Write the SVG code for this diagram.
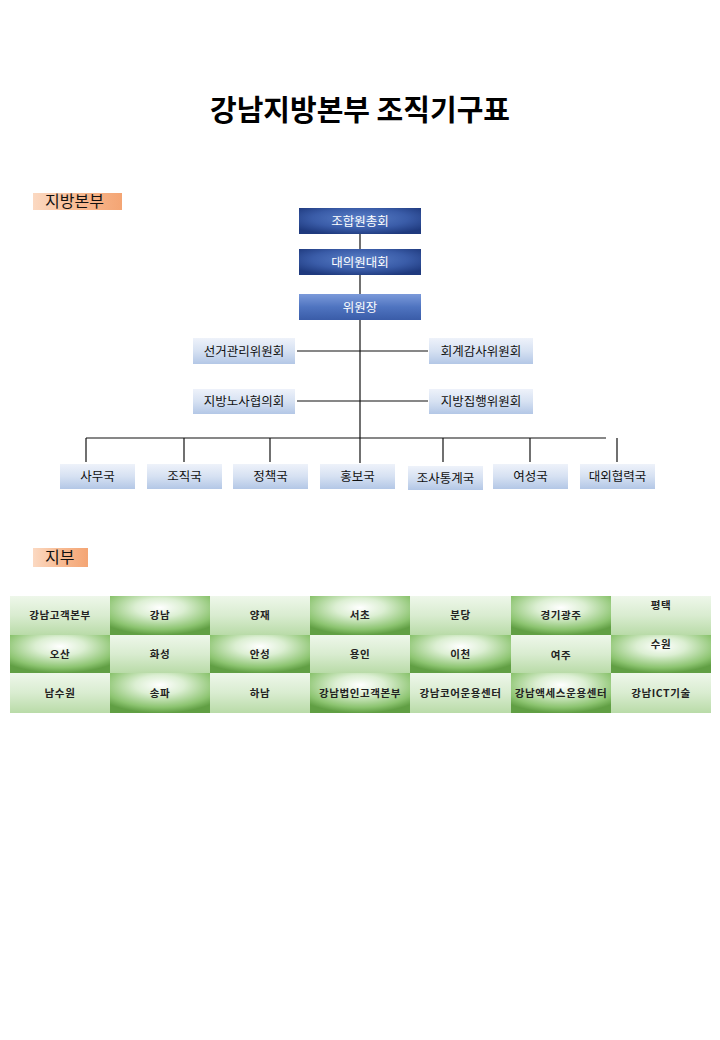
<svg xmlns="http://www.w3.org/2000/svg" width="720" height="1040" viewBox="0 0 720 1040">
<defs>
<radialGradient id="navy" cx="50%" cy="40%" r="65%">
<stop offset="0" stop-color="#5a80c8"/>
<stop offset="0.6" stop-color="#3a5ca8"/>
<stop offset="1" stop-color="#1f3a7e"/>
</radialGradient>
<linearGradient id="chief" x1="0" y1="0" x2="0" y2="1">
<stop offset="0" stop-color="#7b9ada"/>
<stop offset="0.5" stop-color="#4f74c0"/>
<stop offset="1" stop-color="#3a5ca8"/>
</linearGradient>
<linearGradient id="pale" x1="0" y1="0" x2="0" y2="1">
<stop offset="0" stop-color="#eef2fa"/>
<stop offset="0.5" stop-color="#d6e1f2"/>
<stop offset="1" stop-color="#b3c7e6"/>
</linearGradient>
<linearGradient id="tag" x1="0" y1="0" x2="1" y2="0">
<stop offset="0" stop-color="#fbd9c2"/>
<stop offset="0.5" stop-color="#f8bb93"/>
<stop offset="1" stop-color="#f4a574"/>
</linearGradient>
<radialGradient id="gdark" cx="50%" cy="30%" r="70%">
<stop offset="0" stop-color="#ffffff"/>
<stop offset="0.35" stop-color="#dcefd3"/>
<stop offset="0.8" stop-color="#8cc470"/>
<stop offset="1" stop-color="#619f44"/>
</radialGradient>
<linearGradient id="glight" x1="0" y1="0" x2="0" y2="1">
<stop offset="0" stop-color="#eef7ea"/>
<stop offset="0.5" stop-color="#d9ecd0"/>
<stop offset="1" stop-color="#b9dba8"/>
</linearGradient>
</defs>
<style>
.t{font-family:"Noto Sans CJK KR","Noto Sans",sans-serif}
.title{font-size:29px;font-weight:bold;fill:#000}
.w{font-size:12.5px;fill:#fff}
.d{font-size:12.5px;fill:#111}
.tag{font-size:16px;fill:#111}
.c{font-size:10.5px;font-weight:bold;fill:#222;letter-spacing:0.6px}
.ln{stroke:#111;stroke-width:1.2;fill:none}
</style>
<rect width="720" height="1040" fill="#fff"/>
<text class="t title" x="360" y="121" text-anchor="middle">강남지방본부 조직기구표</text>

<g id="tag-bonbu"><rect x="33" y="193" width="89" height="17" fill="url(#tag)"/><text class="t tag" x="45" y="207">지방본부</text></g>
<g id="tag-jibu"><rect x="33" y="548" width="55" height="19" fill="url(#tag)"/><text class="t tag" x="45" y="563">지부</text></g>

<g id="connectors">
<line class="ln" x1="360" y1="234" x2="360" y2="249"/>
<line class="ln" x1="360" y1="275" x2="360" y2="294"/>
<line class="ln" x1="360" y1="320" x2="360" y2="463"/>
<line class="ln" x1="297" y1="351" x2="428" y2="351"/>
<line class="ln" x1="297" y1="401" x2="428" y2="401"/>
<line class="ln" x1="86" y1="438" x2="606" y2="438"/>
<line class="ln" x1="86" y1="438" x2="86" y2="462"/>
<line class="ln" x1="184" y1="438" x2="184" y2="462"/>
<line class="ln" x1="270" y1="438" x2="270" y2="462"/>
<line class="ln" x1="443" y1="438" x2="443" y2="462"/>
<line class="ln" x1="530" y1="438" x2="530" y2="462"/>
<line class="ln" x1="617" y1="438" x2="617" y2="462"/>
</g>

<g id="n-chonghoe"><rect x="299" y="208" width="122" height="26" fill="url(#navy)"/><text class="t w" x="360" y="225.5" text-anchor="middle">조합원총회</text></g>
<g id="n-daeuiwon"><rect x="299" y="249" width="122" height="26" fill="url(#navy)"/><text class="t w" x="360" y="266.5" text-anchor="middle">대의원대회</text></g>
<g id="n-wiwonjang"><rect x="299" y="294" width="122" height="26" fill="url(#chief)"/><text class="t w" x="360" y="311.5" text-anchor="middle">위원장</text></g>

<g id="n-seongeo"><rect x="193" y="338" width="102" height="26" fill="url(#pale)"/><text class="t d" x="244" y="355.5" text-anchor="middle">선거관리위원회</text></g>
<g id="n-hoegye"><rect x="429" y="338" width="104" height="26" fill="url(#pale)"/><text class="t d" x="481" y="355.5" text-anchor="middle">회계감사위원회</text></g>
<g id="n-nosa"><rect x="193" y="389" width="102" height="25" fill="url(#pale)"/><text class="t d" x="244" y="406" text-anchor="middle">지방노사협의회</text></g>
<g id="n-jiphaeng"><rect x="429" y="389" width="104" height="25" fill="url(#pale)"/><text class="t d" x="481" y="406" text-anchor="middle">지방집행위원회</text></g>

<g id="n-samu"><rect x="60" y="464" width="75" height="25" fill="url(#pale)"/><text class="t d" x="97.5" y="481" text-anchor="middle">사무국</text></g>
<g id="n-jojik"><rect x="147" y="464" width="75" height="25" fill="url(#pale)"/><text class="t d" x="184.5" y="481" text-anchor="middle">조직국</text></g>
<g id="n-jeongchaek"><rect x="233" y="464" width="75" height="25" fill="url(#pale)"/><text class="t d" x="270.5" y="481" text-anchor="middle">정책국</text></g>
<g id="n-hongbo"><rect x="320" y="464" width="75" height="25" fill="url(#pale)"/><text class="t d" x="357.5" y="481" text-anchor="middle">홍보국</text></g>
<g id="n-josa"><rect x="408" y="466" width="75" height="24" fill="url(#pale)"/><text class="t d" x="445.5" y="482.5" text-anchor="middle">조사통계국</text></g>
<g id="n-yeoseong"><rect x="493" y="464" width="75" height="25" fill="url(#pale)"/><text class="t d" x="530.5" y="481" text-anchor="middle">여성국</text></g>
<g id="n-daeoe"><rect x="580" y="464" width="75" height="25" fill="url(#pale)"/><text class="t d" x="617.5" y="481" text-anchor="middle">대외협력국</text></g>

<g id="branches">
<g id="b-1-1"><rect x="10" y="596" width="100" height="39" fill="url(#glight)"/><text class="t c" x="60" y="619" text-anchor="middle">강남고객본부</text></g>
<g id="b-1-2"><rect x="110" y="596" width="100" height="39" fill="url(#gdark)"/><text class="t c" x="160" y="619" text-anchor="middle">강남</text></g>
<g id="b-1-3"><rect x="210" y="596" width="100" height="39" fill="url(#glight)"/><text class="t c" x="260" y="619" text-anchor="middle">양재</text></g>
<g id="b-1-4"><rect x="310" y="596" width="100" height="39" fill="url(#gdark)"/><text class="t c" x="360" y="619" text-anchor="middle">서초</text></g>
<g id="b-1-5"><rect x="410" y="596" width="101" height="39" fill="url(#glight)"/><text class="t c" x="460.5" y="619" text-anchor="middle">분당</text></g>
<g id="b-1-6"><rect x="511" y="596" width="100" height="39" fill="url(#gdark)"/><text class="t c" x="561" y="619" text-anchor="middle">경기광주</text></g>
<g id="b-1-7"><rect x="611" y="596" width="100" height="39" fill="url(#glight)"/><text class="t c" x="661" y="609" text-anchor="middle">평택</text></g>

<g id="b-2-1"><rect x="10" y="635" width="100" height="38" fill="url(#gdark)"/><text class="t c" x="60" y="658" text-anchor="middle">오산</text></g>
<g id="b-2-2"><rect x="110" y="635" width="100" height="38" fill="url(#glight)"/><text class="t c" x="160" y="658" text-anchor="middle">화성</text></g>
<g id="b-2-3"><rect x="210" y="635" width="100" height="38" fill="url(#gdark)"/><text class="t c" x="260" y="658" text-anchor="middle">안성</text></g>
<g id="b-2-4"><rect x="310" y="635" width="100" height="38" fill="url(#glight)"/><text class="t c" x="360" y="658" text-anchor="middle">용인</text></g>
<g id="b-2-5"><rect x="410" y="635" width="101" height="38" fill="url(#gdark)"/><text class="t c" x="460.5" y="658" text-anchor="middle">이천</text></g>
<g id="b-2-6"><rect x="511" y="635" width="100" height="38" fill="url(#glight)"/><text class="t c" x="561" y="659" text-anchor="middle">여주</text></g>
<g id="b-2-7"><rect x="611" y="635" width="100" height="38" fill="url(#gdark)"/><text class="t c" x="661" y="648" text-anchor="middle">수원</text></g>

<g id="b-3-1"><rect x="10" y="673" width="100" height="40" fill="url(#glight)"/><text class="t c" x="60" y="697" text-anchor="middle">남수원</text></g>
<g id="b-3-2"><rect x="110" y="673" width="100" height="40" fill="url(#gdark)"/><text class="t c" x="160" y="697" text-anchor="middle">송파</text></g>
<g id="b-3-3"><rect x="210" y="673" width="100" height="40" fill="url(#glight)"/><text class="t c" x="260" y="697" text-anchor="middle">하남</text></g>
<g id="b-3-4"><rect x="310" y="673" width="100" height="40" fill="url(#gdark)"/><text class="t c" x="360" y="697" text-anchor="middle">강남법인고객본부</text></g>
<g id="b-3-5"><rect x="410" y="673" width="101" height="40" fill="url(#glight)"/><text class="t c" x="460.5" y="697" text-anchor="middle">강남코어운용센터</text></g>
<g id="b-3-6"><rect x="511" y="673" width="100" height="40" fill="url(#gdark)"/><text class="t c" x="561" y="697" text-anchor="middle">강남액세스운용센터</text></g>
<g id="b-3-7"><rect x="611" y="673" width="100" height="40" fill="url(#glight)"/><text class="t c" x="661" y="697" text-anchor="middle">강남ICT기술</text></g>
</g>
</svg>
